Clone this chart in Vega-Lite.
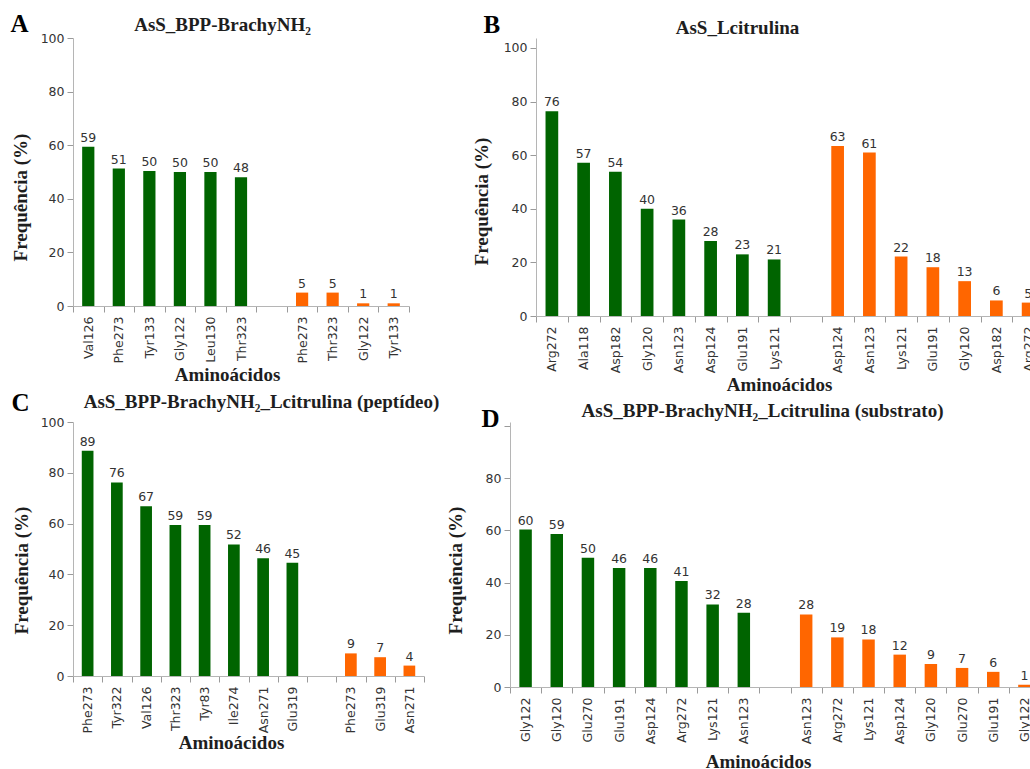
{
  "$schema": "https://vega.github.io/schema/vega-lite/v6.json",
  "background": "white",
  "padding": {"left": 10, "top": 11, "right": 0, "bottom": 0},
  "datasets": {
    "A": [
      {"k": "G-Val126", "g": "G", "v": 59.4},
      {"k": "G-Phe273", "g": "G", "v": 51.3},
      {"k": "G-Tyr133", "g": "G", "v": 50.4},
      {"k": "G-Gly122", "g": "G", "v": 50},
      {"k": "G-Leu130", "g": "G", "v": 50},
      {"k": "G-Thr323", "g": "G", "v": 48},
      {"k": "O-Phe273", "g": "O", "v": 5},
      {"k": "O-Thr323", "g": "O", "v": 5},
      {"k": "O-Gly122", "g": "O", "v": 1},
      {"k": "O-Tyr133", "g": "O", "v": 1}
    ],
    "B": [
      {"k": "G-Arg272", "g": "G", "v": 76.4},
      {"k": "G-Ala118", "g": "G", "v": 57.2},
      {"k": "G-Asp182", "g": "G", "v": 53.8},
      {"k": "G-Gly120", "g": "G", "v": 40},
      {"k": "G-Asn123", "g": "G", "v": 36},
      {"k": "G-Asp124", "g": "G", "v": 28},
      {"k": "G-Glu191", "g": "G", "v": 23},
      {"k": "G-Lys121", "g": "G", "v": 21.1},
      {"k": "O-Asp124", "g": "O", "v": 63.4},
      {"k": "O-Asn123", "g": "O", "v": 61},
      {"k": "O-Lys121", "g": "O", "v": 22.2},
      {"k": "O-Glu191", "g": "O", "v": 18.2},
      {"k": "O-Gly120", "g": "O", "v": 13},
      {"k": "O-Asp182", "g": "O", "v": 5.8},
      {"k": "O-Arg272", "g": "O", "v": 5}
    ],
    "C": [
      {"k": "G-Phe273", "g": "G", "v": 88.7},
      {"k": "G-Tyr322", "g": "G", "v": 76.2},
      {"k": "G-Val126", "g": "G", "v": 66.8},
      {"k": "G-Thr323", "g": "G", "v": 59.4},
      {"k": "G-Tyr83", "g": "G", "v": 59.4},
      {"k": "G-Ile274", "g": "G", "v": 51.8},
      {"k": "G-Asn271", "g": "G", "v": 46.4},
      {"k": "G-Glu319", "g": "G", "v": 44.6},
      {"k": "O-Phe273", "g": "O", "v": 8.9},
      {"k": "O-Glu319", "g": "O", "v": 7.4},
      {"k": "O-Asn271", "g": "O", "v": 4.1}
    ],
    "D": [
      {"k": "G-Gly122", "g": "G", "v": 60.3},
      {"k": "G-Gly120", "g": "G", "v": 58.6},
      {"k": "G-Glu270", "g": "G", "v": 49.5},
      {"k": "G-Glu191", "g": "G", "v": 45.6},
      {"k": "G-Asp124", "g": "G", "v": 45.6},
      {"k": "G-Arg272", "g": "G", "v": 40.6},
      {"k": "G-Lys121", "g": "G", "v": 31.6},
      {"k": "G-Asn123", "g": "G", "v": 28.4},
      {"k": "O-Asn123", "g": "O", "v": 27.8},
      {"k": "O-Arg272", "g": "O", "v": 19},
      {"k": "O-Lys121", "g": "O", "v": 18.2},
      {"k": "O-Asp124", "g": "O", "v": 12.4},
      {"k": "O-Gly120", "g": "O", "v": 8.8},
      {"k": "O-Glu270", "g": "O", "v": 7.3},
      {"k": "O-Glu191", "g": "O", "v": 5.8},
      {"k": "O-Gly122", "g": "O", "v": 0.9}
    ]
  },
  "vconcat": [
    {
      "hconcat": [
        {
          "data": {"name": "A"},
          "width": 336,
          "height": 268,
          "layer": [
            {
              "mark": {"type": "bar", "width": {"band": 0.4}},
              "encoding": {
                "x": {"field": "k", "type": "nominal",
                  "scale": {"domain": ["G-Val126", "G-Phe273", "G-Tyr133", "G-Gly122", "G-Leu130", "G-Thr323", "--", "O-Phe273", "O-Thr323", "O-Gly122", "O-Tyr133"], "paddingInner": 0, "paddingOuter": 0},
                  "axis": {"orient": "bottom", "labelExpr": "isString(datum.value) ? substring(datum.value, 2) : ''", "labelAngle": -90, "tickBand": "extent", "labelPadding": 4, "title": "Aminoácidos", "titleX": 154, "titleY": 74, "titleBaseline": "alphabetic", "titleAlign": "center"}},
                "y": {"field": "v", "type": "quantitative", "scale": {"domain": [0, 100], "nice": false},
                  "axis": {"orient": "left", "values": [0, 20, 40, 60, 80, 100], "labelPadding": 3, "title": "Frequência (%)", "titleX": -47, "titleY": 159, "titleAngle": 270, "titleBaseline": "alphabetic", "titleAlign": "center"}},
                "color": {"field": "g", "type": "nominal", "scale": {"domain": ["G", "O"], "range": ["#006400", "#ff6600"]}, "legend": null}
              }
            },
            {
              "mark": {"type": "text", "dy": -5, "baseline": "alphabetic", "font": "DejaVu Sans", "fontSize": 12.5, "fill": "#333"},
              "encoding": {
                "x": {"field": "k", "type": "nominal",
                  "axis": {"orient": "top", "labels": false, "ticks": false, "domain": false, "title": "AsS_BPP-BrachyNH₂", "titleX": 149, "titleY": -8, "titleAlign": "center", "titleBaseline": "alphabetic"}},
                "y": {"field": "v", "type": "quantitative",
                  "axis": {"orient": "left", "labels": false, "ticks": false, "domain": false, "title": "A", "titleFontSize": 25, "titleColor": "#000", "titleAngle": 0, "titleX": -63, "titleY": -7, "titleAlign": "left", "titleBaseline": "alphabetic"}},
                "text": {"field": "v", "type": "quantitative", "format": ".0f"}
              }
            }
          ],
          "resolve": {"axis": {"x": "independent", "y": "independent"}}
        },
        {
          "data": {"name": "B"},
          "width": 508,
          "height": 278,
          "layer": [
            {
              "mark": {"type": "bar", "width": {"band": 0.4}},
              "encoding": {
                "x": {"field": "k", "type": "nominal",
                  "scale": {"domain": ["G-Arg272", "G-Ala118", "G-Asp182", "G-Gly120", "G-Asn123", "G-Asp124", "G-Glu191", "G-Lys121", "--", "O-Asp124", "O-Asn123", "O-Lys121", "O-Glu191", "O-Gly120", "O-Asp182", "O-Arg272"], "paddingInner": 0, "paddingOuter": 0},
                  "axis": {"orient": "bottom", "labelExpr": "isString(datum.value) ? substring(datum.value, 2) : ''", "labelAngle": -90, "tickBand": "extent", "labelPadding": 4, "title": "Aminoácidos", "titleX": 243, "titleY": 74, "titleBaseline": "alphabetic", "titleAlign": "center"}},
                "y": {"field": "v", "type": "quantitative", "scale": {"domain": [0, 103.73], "nice": false},
                  "axis": {"orient": "left", "values": [0, 20, 40, 60, 80, 100], "labelPadding": 3, "title": "Frequência (%)", "titleX": -49, "titleY": 163, "titleAngle": 270, "titleBaseline": "alphabetic", "titleAlign": "center"}},
                "color": {"field": "g", "type": "nominal", "scale": {"domain": ["G", "O"], "range": ["#006400", "#ff6600"]}, "legend": null}
              }
            },
            {
              "mark": {"type": "text", "dy": -5, "baseline": "alphabetic", "font": "DejaVu Sans", "fontSize": 12.5, "fill": "#333"},
              "encoding": {
                "x": {"field": "k", "type": "nominal",
                  "axis": {"orient": "top", "labels": false, "ticks": false, "domain": false, "title": "AsS_Lcitrulina", "titleX": 201, "titleY": -5, "titleAlign": "center", "titleBaseline": "alphabetic"}},
                "y": {"field": "v", "type": "quantitative",
                  "axis": {"orient": "left", "labels": false, "ticks": false, "domain": false, "title": "B", "titleFontSize": 25, "titleColor": "#000", "titleAngle": 0, "titleX": -53, "titleY": -6, "titleAlign": "left", "titleBaseline": "alphabetic"}},
                "text": {"field": "v", "type": "quantitative", "format": ".0f"}
              }
            }
          ],
          "resolve": {"axis": {"x": "independent", "y": "independent"}}
        }
      ],
      "spacing": 62
    },
    {
      "hconcat": [
        {
          "data": {"name": "C"},
          "width": 351,
          "height": 254,
          "layer": [
            {
              "mark": {"type": "bar", "width": {"band": 0.4}},
              "encoding": {
                "x": {"field": "k", "type": "nominal",
                  "scale": {"domain": ["G-Phe273", "G-Tyr322", "G-Val126", "G-Thr323", "G-Tyr83", "G-Ile274", "G-Asn271", "G-Glu319", "--", "O-Phe273", "O-Glu319", "O-Asn271"], "paddingInner": 0, "paddingOuter": 0},
                  "axis": {"orient": "bottom", "labelExpr": "isString(datum.value) ? substring(datum.value, 2) : ''", "labelAngle": -90, "tickBand": "extent", "labelPadding": 4, "title": "Aminoácidos", "titleX": 158, "titleY": 72, "titleBaseline": "alphabetic", "titleAlign": "center"}},
                "y": {"field": "v", "type": "quantitative", "scale": {"domain": [0, 100], "nice": false},
                  "axis": {"orient": "left", "values": [0, 20, 40, 60, 80, 100], "labelPadding": 3, "title": "Frequência (%)", "titleX": -46, "titleY": 148, "titleAngle": 270, "titleBaseline": "alphabetic", "titleAlign": "center"}},
                "color": {"field": "g", "type": "nominal", "scale": {"domain": ["G", "O"], "range": ["#006400", "#ff6600"]}, "legend": null}
              }
            },
            {
              "mark": {"type": "text", "dy": -5, "baseline": "alphabetic", "font": "DejaVu Sans", "fontSize": 12.5, "fill": "#333"},
              "encoding": {
                "x": {"field": "k", "type": "nominal",
                  "axis": {"orient": "top", "labels": false, "ticks": false, "domain": false, "title": "AsS_BPP-BrachyNH₂_Lcitrulina (peptídeo)", "titleX": 188, "titleY": -15, "titleAlign": "center", "titleBaseline": "alphabetic"}},
                "y": {"field": "v", "type": "quantitative",
                  "axis": {"orient": "left", "labels": false, "ticks": false, "domain": false, "title": "C", "titleFontSize": 25, "titleColor": "#000", "titleAngle": 0, "titleX": -62, "titleY": -12, "titleAlign": "left", "titleBaseline": "alphabetic"}},
                "text": {"field": "v", "type": "quantitative", "format": ".0f"}
              }
            }
          ],
          "resolve": {"axis": {"x": "independent", "y": "independent"}}
        },
        {
          "data": {"name": "D"},
          "width": 530,
          "height": 265,
          "layer": [
            {
              "mark": {"type": "bar", "width": {"band": 0.4}},
              "encoding": {
                "x": {"field": "k", "type": "nominal",
                  "scale": {"domain": ["G-Gly122", "G-Gly120", "G-Glu270", "G-Glu191", "G-Asp124", "G-Arg272", "G-Lys121", "G-Asn123", "--", "O-Asn123", "O-Arg272", "O-Lys121", "O-Asp124", "O-Gly120", "O-Glu270", "O-Glu191", "O-Gly122"], "paddingInner": 0, "paddingOuter": 0},
                  "axis": {"orient": "bottom", "labelExpr": "isString(datum.value) ? substring(datum.value, 2) : ''", "labelAngle": -90, "tickBand": "extent", "labelPadding": 4, "title": "Aminoácidos", "titleX": 248, "titleY": 80, "titleBaseline": "alphabetic", "titleAlign": "center"}},
                "y": {"field": "v", "type": "quantitative", "scale": {"domain": [0, 101.5], "nice": false},
                  "axis": {"orient": "left", "values": [0, 20, 40, 60, 80, 100], "labelExpr": "datum.value == 100 ? '' : datum.label", "labelPadding": 3, "title": "Frequência (%)", "titleX": -49, "titleY": 148, "titleAngle": 270, "titleBaseline": "alphabetic", "titleAlign": "center"}},
                "color": {"field": "g", "type": "nominal", "scale": {"domain": ["G", "O"], "range": ["#006400", "#ff6600"]}, "legend": null}
              }
            },
            {
              "mark": {"type": "text", "dy": -5, "baseline": "alphabetic", "font": "DejaVu Sans", "fontSize": 12.5, "fill": "#333"},
              "encoding": {
                "x": {"field": "k", "type": "nominal",
                  "axis": {"orient": "top", "labels": false, "ticks": false, "domain": false, "title": "AsS_BPP-BrachyNH₂_Lcitrulina (substrato)", "titleX": 252, "titleY": -6, "titleAlign": "center", "titleBaseline": "alphabetic"}},
                "y": {"field": "v", "type": "quantitative",
                  "axis": {"orient": "left", "labels": false, "ticks": false, "domain": false, "title": "D", "titleFontSize": 25, "titleColor": "#000", "titleAngle": 0, "titleX": -29, "titleY": 4, "titleAlign": "left", "titleBaseline": "alphabetic"}},
                "text": {"field": "v", "type": "quantitative", "format": ".0f"}
              }
            }
          ],
          "resolve": {"axis": {"x": "independent", "y": "independent"}}
        }
      ],
      "spacing": 7
    }
  ],
  "spacing": -4,
  "config": {
    "view": {"stroke": null},
    "axis": {"labelFont": "DejaVu Sans", "labelFontSize": 12.5, "labelColor": "#333", "domainColor": "#b5b5b5", "tickColor": "#9a9a9a", "tickSize": 6, "grid": false, "titleFont": "Liberation Serif", "titleFontSize": 19, "titleFontWeight": "bold", "titleColor": "#1e1e1e"}
  }
}
